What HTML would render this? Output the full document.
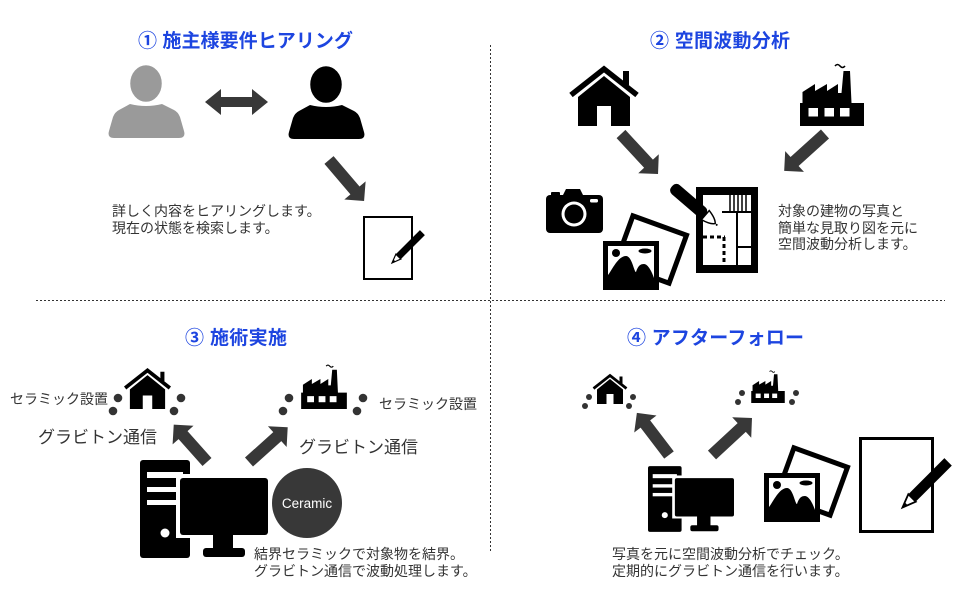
<!DOCTYPE html>
<html><head><meta charset="utf-8"><style>
html,body{margin:0;padding:0;background:#fff;}
svg{display:block;}
text{font-family:"Liberation Sans","Noto Sans CJK JP",sans-serif;}
.t{font-weight:bold;fill:#1d45e0;font-size:19px;}
.b{font-size:14px;fill:#333;}
.g{font-size:17px;fill:#333;}
.ar{fill:#383838;}
.dot{fill:#333;}
</style></head><body>
<svg width="980" height="600" viewBox="0 0 980 600" xmlns="http://www.w3.org/2000/svg">
<defs>
<symbol id="house" viewBox="0 0 72 62">
 <polyline points="3,31 36,5 69,31" fill="none" stroke="#000" stroke-width="5.5" stroke-linejoin="miter"/>
 <rect x="55" y="7" width="6" height="14" fill="#000"/>
 <path d="M10,33 L36,12 L62,33 L62,62 L43,62 L43,42 L29,42 L29,62 L10,62 Z" fill="#000"/>
</symbol>
<symbol id="factory" viewBox="0 0 64 63">
 <path d="M0,40 L2.5,40 L2.5,29 L15,21 L15,28 L27,21 L27,28 L38,21 L38,30 L41.5,30 L43.5,8 L50,8 L51.5,40 L64,40 L64,63 L0,63 Z" fill="#000"/>
 <rect x="8.5" y="45" width="9.5" height="8.5" fill="#fff"/>
 <rect x="24.5" y="45" width="9.5" height="8.5" fill="#fff"/>
 <rect x="40" y="45" width="9.5" height="8.5" fill="#fff"/>
 <path d="M35,3 q2.5,-3 5,0 t5,0" fill="none" stroke="#000" stroke-width="1.6"/>
</symbol>
<symbol id="pc" viewBox="0 0 128 98">
 <rect x="0" y="0" width="50" height="98" rx="3" fill="#000"/>
 <rect x="7" y="12" width="36" height="6" fill="#fff"/>
 <rect x="7" y="27" width="36" height="5" fill="#fff"/>
 <rect x="7" y="40" width="36" height="5" fill="#fff"/>
 <circle cx="25" cy="73" r="4.5" fill="#fff"/>
 <rect x="36" y="14" width="92" height="64" fill="#fff"/>
 <rect x="40" y="18" width="88" height="57" rx="3" fill="#000"/>
 <rect x="73" y="75" width="20" height="14" fill="#000"/>
 <rect x="63" y="88" width="42" height="9" rx="3" fill="#000"/>
</symbol>
<g id="photos">
 <rect x="-28.5" y="-25.5" width="57" height="51" fill="#fff" stroke="#000" stroke-width="5" transform="translate(651,249.5) rotate(20)"/>
 <rect x="603" y="241" width="56" height="49" fill="#000"/>
 <rect x="608" y="246" width="46" height="35" fill="#fff"/>
 <path d="M608,281 L608,275 C612,270 618,256 626,256 C632,256 634,272 636,272 C638,266 640,264 644,264 C648,264 652,272 654,278 L654,281 Z" fill="#000"/>
 <circle cx="616" cy="253" r="4" fill="#000"/>
 <ellipse cx="645" cy="251" rx="6.5" ry="2.5" fill="#000"/>
</g>
<g id="note">
 <rect x="364" y="217" width="48" height="62" fill="#fff" stroke="#000" stroke-width="2"/>
 <g transform="translate(392,263) rotate(-45)">
  <rect x="9" y="-3.5" width="34" height="7" fill="#000"/>
  <polygon points="0,0 9,-3.5 9,3.5" fill="#fff" stroke="#000" stroke-width="1.2"/>
  <polygon points="0,0 3.5,-1.4 3.5,1.4" fill="#000"/>
 </g>
</g>
</defs>

<!-- dashed dividers -->
<line x1="490.5" y1="45" x2="490.5" y2="553" stroke="#333" stroke-width="1" stroke-dasharray="2,2"/>
<line x1="36" y1="300.5" x2="945" y2="300.5" stroke="#333" stroke-width="1" stroke-dasharray="2,2"/>

<!-- ===== Section 1 ===== -->
<text class="t" x="138" y="47" textLength="215" lengthAdjust="spacing">① 施主様要件ヒアリング</text>
<path d="M130,104 Q146,108 162,104 L174,110 Q178,112 180,117 L184,131 Q186,138 179,138 L114,138 Q107,138 109,131 L113,117 Q115,112 119,110 Z" fill="#9a9a9a"/>
<ellipse cx="146" cy="83.5" rx="17" ry="19.5" fill="#9a9a9a" stroke="#fff" stroke-width="2.5"/>
<g transform="translate(180,1)">
<path d="M130,104 Q146,108 162,104 L174,110 Q178,112 180,117 L184,131 Q186,138 179,138 L114,138 Q107,138 109,131 L113,117 Q115,112 119,110 Z" fill="#000"/>
<ellipse cx="146" cy="83.5" rx="17" ry="19.5" fill="#000" stroke="#fff" stroke-width="2.5"/>
</g>
<polygon class="ar" points="205,102 221,89 221,97 252,97 252,89 268,102 252,115 252,107 221,107 221,115"/>
<g transform="translate(329,160) rotate(49.5)"><polygon class="ar" points="0,-6 40,-6 40,-14 54,0 40,14 40,6 0,6"/></g>
<text class="b" x="112" y="216">詳しく内容をヒアリングします。</text>
<text class="b" x="112" y="233">現在の状態を検索します。</text>
<use href="#note"/>

<!-- ===== Section 2 ===== -->
<text class="t" x="650" y="47" textLength="140" lengthAdjust="spacing">② 空間波動分析</text>
<use href="#house" x="568" y="64" width="72" height="62"/>
<use href="#factory" x="800" y="63" width="64" height="63"/>
<g transform="translate(621,134) rotate(47.2)"><polygon class="ar" points="0,-6 40.5,-6 40.5,-14 54.5,0 40.5,14 40.5,6 0,6"/></g>
<g transform="translate(825,134) rotate(137.9)"><polygon class="ar" points="0,-6 41,-6 41,-14 55,0 41,14 41,6 0,6"/></g>
<!-- camera -->
<path d="M566,189 L580,189 L583,195 L563,195 Z" fill="#000"/>
<rect x="551" y="192" width="9" height="5" rx="1" fill="#000"/>
<rect x="546" y="195" width="57" height="38" rx="4" fill="#000"/>
<circle cx="574" cy="214" r="12.5" fill="#fff"/>
<circle cx="574" cy="214" r="9.5" fill="#000"/>
<rect x="590" y="199" width="8" height="3.5" rx="1.5" fill="#fff"/>
<use href="#photos"/>
<!-- floor plan -->
<rect x="696" y="187" width="62" height="86" fill="#000"/>
<rect x="703" y="195" width="48" height="70" fill="#fff"/>
<line x1="737" y1="211" x2="737" y2="265" stroke="#000" stroke-width="2"/>
<line x1="722" y1="212" x2="751" y2="212" stroke="#000" stroke-width="2"/>
<line x1="737" y1="247" x2="751" y2="247" stroke="#000" stroke-width="2"/>
<g stroke="#000" stroke-width="1.5">
<line x1="730" y1="195" x2="730" y2="211"/><line x1="734" y1="195" x2="734" y2="211"/><line x1="738" y1="195" x2="738" y2="211"/><line x1="742" y1="195" x2="742" y2="211"/><line x1="746" y1="195" x2="746" y2="211"/>
</g>
<line x1="703" y1="237" x2="725" y2="237" stroke="#000" stroke-width="3" stroke-dasharray="4,3"/>
<line x1="724" y1="237" x2="724" y2="265" stroke="#000" stroke-width="3" stroke-dasharray="4,3"/>
<g transform="translate(675,189) rotate(40.7)">
 <rect x="-4" y="-6" width="44" height="12" rx="5" fill="#000"/>
 <path d="M40,-6 Q50,-4 53,0 Q50,4 40,6 Z" fill="#fff" stroke="#000" stroke-width="1.5"/>
 <circle cx="55" cy="0" r="1" fill="#000"/>
</g>
<text class="b" x="778" y="216">対象の建物の写真と</text>
<text class="b" x="778" y="233">簡単な見取り図を元に</text>
<text class="b" x="778" y="249">空間波動分析します。</text>

<!-- ===== Section 3 ===== -->
<text class="t" x="185" y="344" textLength="102" lengthAdjust="spacing">③ 施術実施</text>
<use href="#house" x="123" y="367" width="49" height="42"/>
<circle class="dot" cx="118" cy="398" r="4.3"/><circle class="dot" cx="113" cy="411" r="4.3"/>
<circle class="dot" cx="181" cy="398" r="4.3"/><circle class="dot" cx="174" cy="411" r="4.3"/>
<use href="#factory" x="301" y="364" width="46" height="45"/>
<circle class="dot" cx="289" cy="398" r="4.3"/><circle class="dot" cx="283" cy="411" r="4.3"/>
<circle class="dot" cx="363" cy="398" r="4.3"/><circle class="dot" cx="357" cy="411" r="4.3"/>
<text class="b" x="10" y="404">セラミック設置</text>
<text class="b" x="379" y="409">セラミック設置</text>
<text class="g" x="38" y="443">グラビトン通信</text>
<text class="g" x="299" y="453">グラビトン通信</text>
<g transform="translate(207,462) rotate(-131.7)"><polygon class="ar" points="0,-6 36,-6 36,-14 50,0 36,14 36,6 0,6"/></g>
<g transform="translate(249,462) rotate(-41.9)"><polygon class="ar" points="0,-6 38,-6 38,-14 52,0 38,14 38,6 0,6"/></g>
<use href="#pc" x="140" y="460" width="128" height="98"/>
<circle cx="307" cy="503" r="35" fill="#383838"/>
<text x="307" y="508" text-anchor="middle" font-size="13.5" fill="#fff">Ceramic</text>
<text class="b" x="254" y="559">結界セラミックで対象物を結界。</text>
<text class="b" x="254" y="576">グラビトン通信で波動処理します。</text>

<!-- ===== Section 4 ===== -->
<text class="t" x="627" y="344" textLength="177" lengthAdjust="spacing">④ アフターフォロー</text>
<use href="#house" x="592" y="373" width="36" height="31"/>
<circle class="dot" cx="589" cy="397" r="3"/><circle class="dot" cx="585" cy="406" r="3"/>
<circle class="dot" cx="633" cy="397" r="3"/><circle class="dot" cx="629" cy="406" r="3"/>
<use href="#factory" x="751" y="370" width="34" height="33"/>
<circle class="dot" cx="742" cy="393" r="3"/><circle class="dot" cx="738" cy="402" r="3"/>
<circle class="dot" cx="796" cy="393" r="3"/><circle class="dot" cx="792" cy="402" r="3"/>
<g transform="translate(669,455) rotate(-127.3)"><polygon class="ar" points="0,-6 39,-6 39,-14 53,0 39,14 39,6 0,6"/></g>
<g transform="translate(712,455) rotate(-42.8)"><polygon class="ar" points="0,-6 40.5,-6 40.5,-14 54.5,0 40.5,14 40.5,6 0,6"/></g>
<use href="#pc" x="648" y="466" width="86" height="66"/>
<use href="#photos" transform="translate(161,232)"/>
<use href="#note" transform="translate(859,437) scale(1.5) translate(-363,-216)"/>
<text class="b" x="612" y="559">写真を元に空間波動分析でチェック。</text>
<text class="b" x="612" y="576">定期的にグラビトン通信を行います。</text>
</svg>
</body></html>
